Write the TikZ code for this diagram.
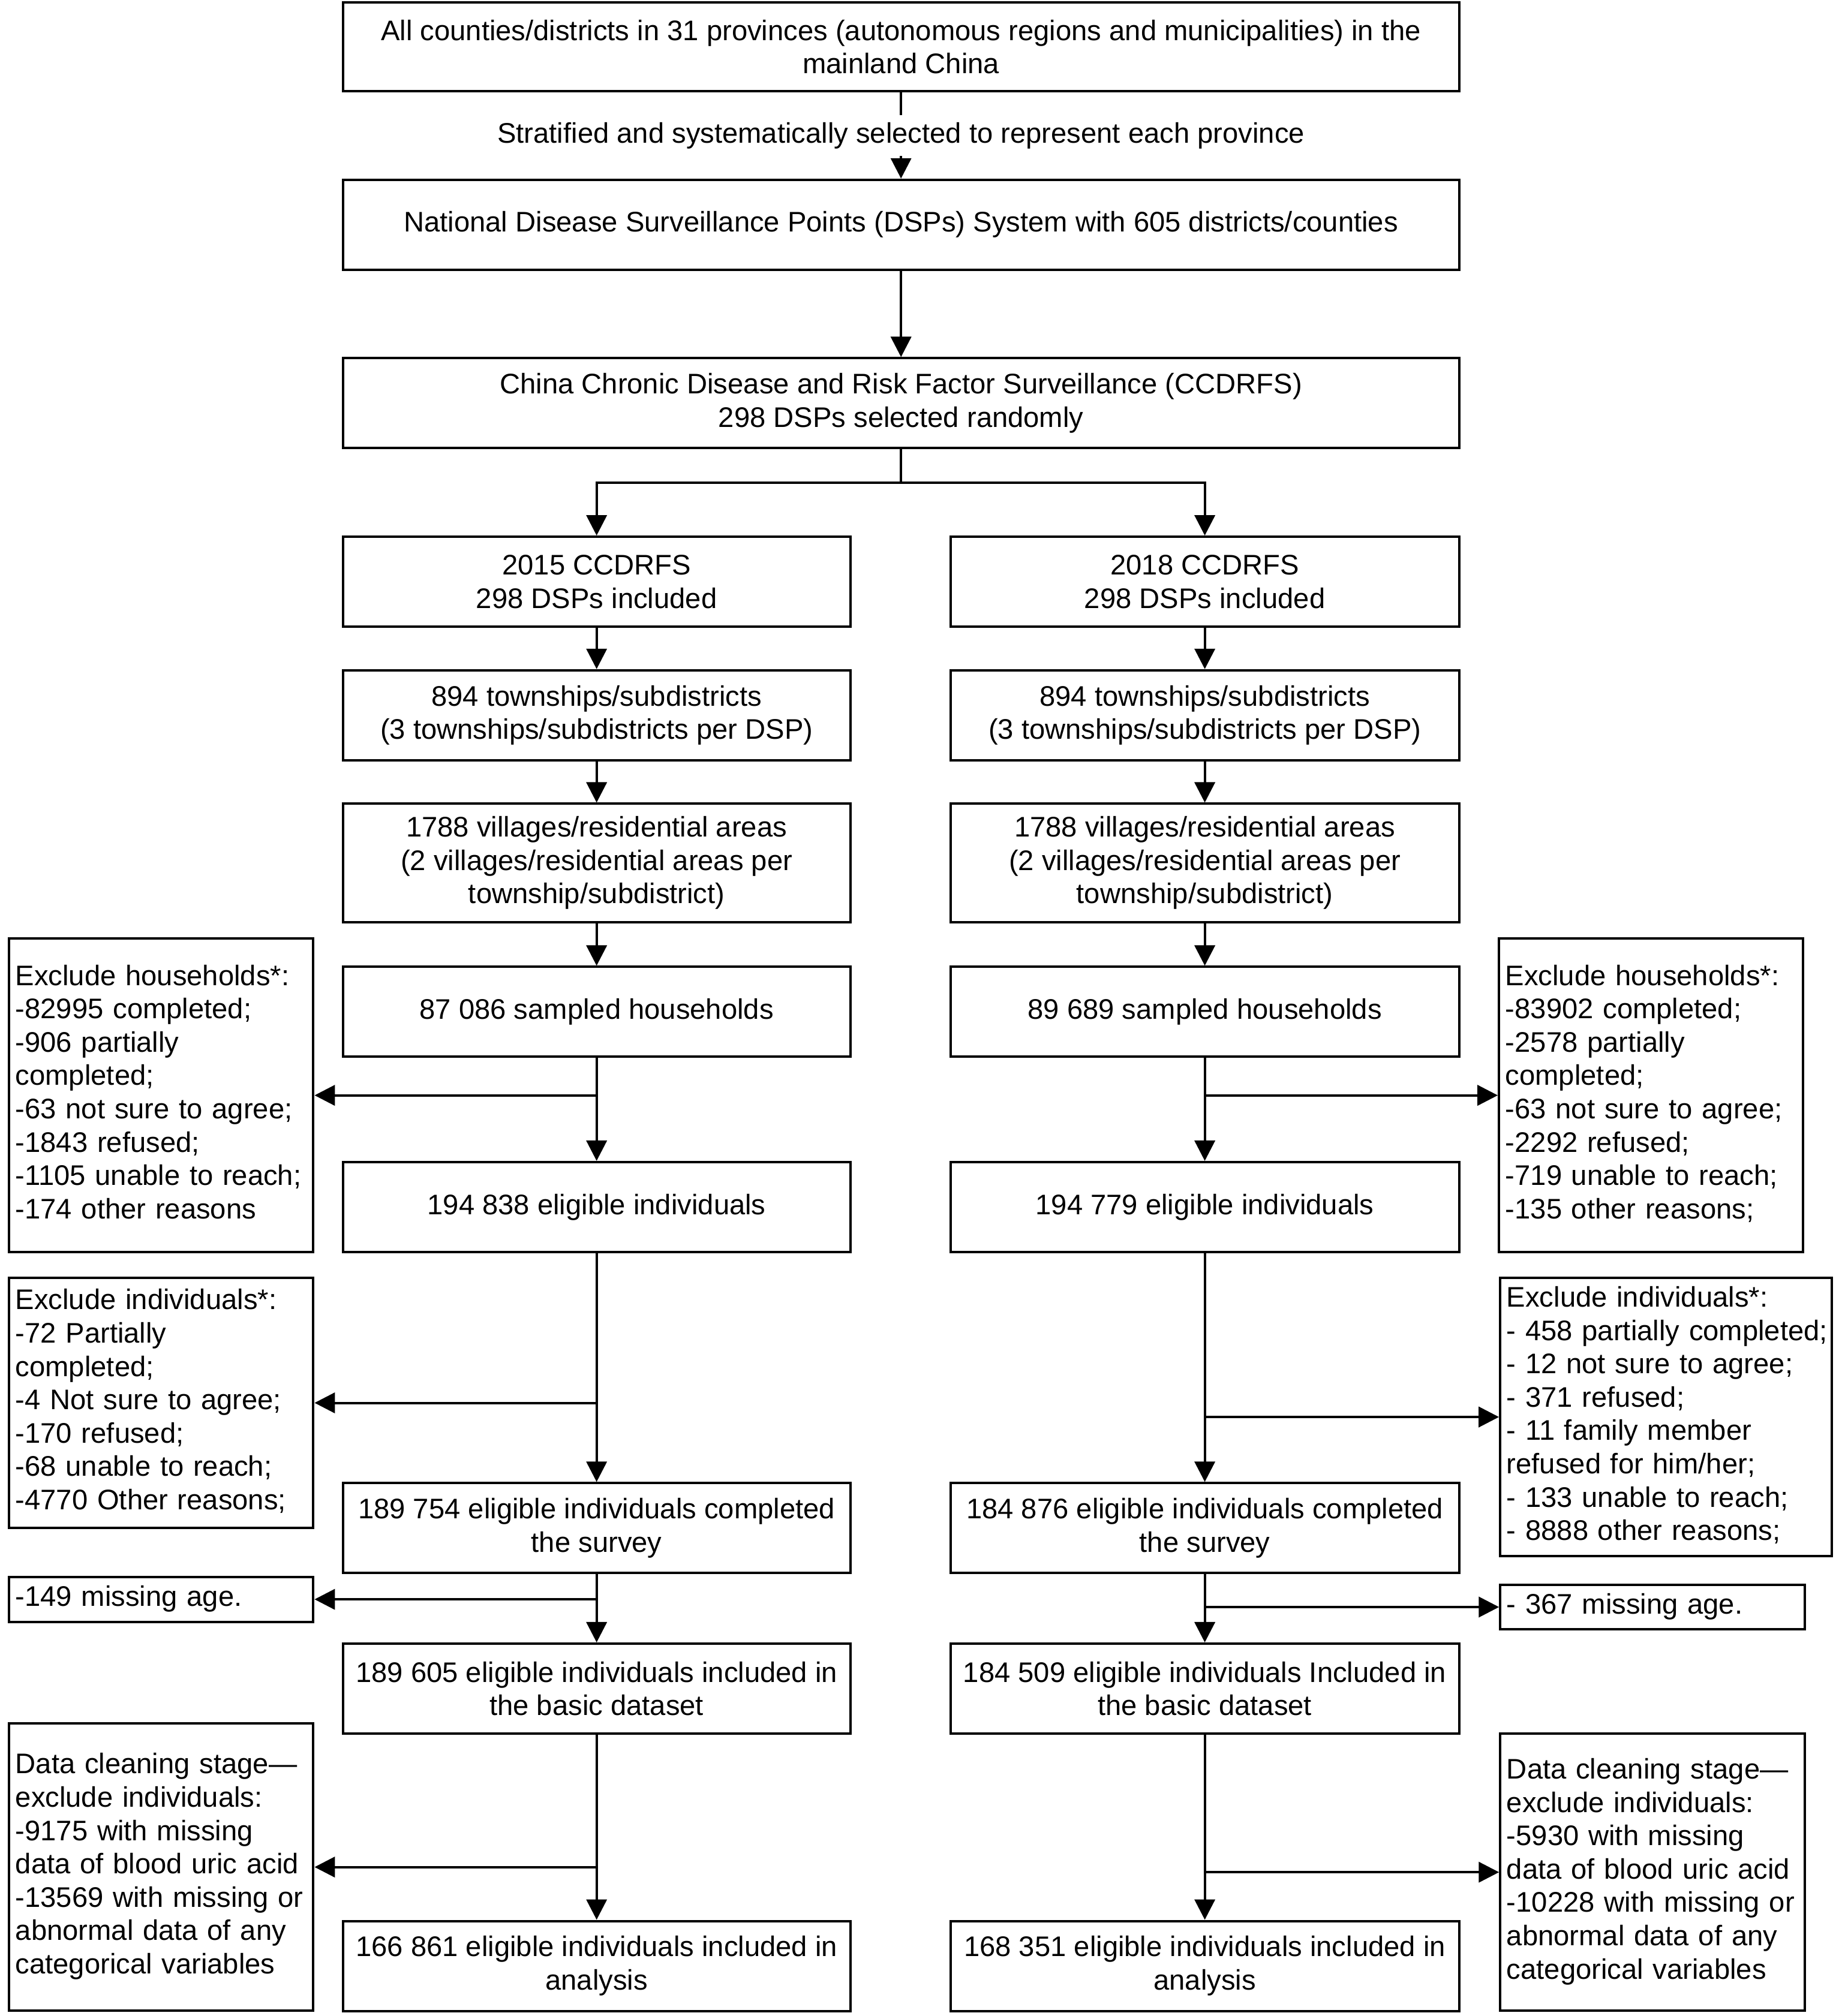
\documentclass[tikz,border=0pt]{standalone}
\usepackage{fontspec}
\setmainfont{Liberation Sans}
\usetikzlibrary{arrows.meta}
\begin{document}
\begin{tikzpicture}[x=0.5354pt,y=-0.5354pt,
  every node/.style={font=\fontsize{11.8}{13.9}\selectfont, inner sep=0pt},
  mainbox/.style 2 args={draw, line width=1pt, align=center, minimum width=#1, minimum height=#2},
  exbox/.style 2 args={draw, line width=1pt, align=left, inner xsep=2.677pt, text width=#1, minimum height=#2},
  conn/.style={line width=1pt},
  arr/.style={line width=1pt, -{Triangle[length=8.5pt,width=8.5pt]}}
]
\useasboundingbox (0,0) rectangle (1434,1570);

% top column
\node[mainbox={465.3pt}{36.9pt}] (top) at (701.5,36.5) {All counties/districts in 31 provinces (autonomous regions and municipalities) in the\\mainland China};
\node[mainbox={465.3pt}{37.5pt}] (dsp) at (701.5,175) {National Disease Surveillance Points (DSPs) System with 605 districts/counties};
\node[mainbox={465.3pt}{37.5pt}] (ccd) at (701.5,314) {China Chronic Disease and Risk Factor Surveillance (CCDRFS)\\298 DSPs selected randomly};

% left column
\node[mainbox={211.5pt}{37.5pt}] (L1) at (464.5,453) {2015 CCDRFS\\298 DSPs included};
\node[mainbox={211.5pt}{37.5pt}] (L2) at (464.5,557) {894 townships/subdistricts\\(3 townships/subdistricts per DSP)};
\node[mainbox={211.5pt}{49.3pt}] (L3) at (464.5,672) {1788 villages/residential areas\\(2 villages/residential areas per\\township/subdistrict)};
\node[mainbox={211.5pt}{37.5pt}] (L4) at (464.5,788) {87 086 sampled households};
\node[mainbox={211.5pt}{37.5pt}] (L5) at (464.5,940) {194 838 eligible individuals};
\node[mainbox={211.5pt}{37.5pt}] (L6) at (464.5,1190) {189 754 eligible individuals completed\\the survey};
\node[mainbox={211.5pt}{37.5pt}] (L7) at (464.5,1315) {189 605 eligible individuals included in\\the basic dataset};
\node[mainbox={211.5pt}{37.5pt}] (L8) at (464.5,1531) {166 861 eligible individuals included in\\analysis};

% right column
\node[mainbox={212pt}{37.5pt}] (R1) at (938,453) {2018 CCDRFS\\298 DSPs included};
\node[mainbox={212pt}{37.5pt}] (R2) at (938,557) {894 townships/subdistricts\\(3 townships/subdistricts per DSP)};
\node[mainbox={212pt}{49.3pt}] (R3) at (938,672) {1788 villages/residential areas\\(2 villages/residential areas per\\township/subdistrict)};
\node[mainbox={212pt}{37.5pt}] (R4) at (938,788) {89 689 sampled households};
\node[mainbox={212pt}{37.5pt}] (R5) at (938,940) {194 779 eligible individuals};
\node[mainbox={212pt}{37.5pt}] (R6) at (938,1190) {184 876 eligible individuals completed\\the survey};
\node[mainbox={212pt}{37.5pt}] (R7) at (938,1315) {184 509 eligible individuals Included in\\the basic dataset};
\node[mainbox={212pt}{37.5pt}] (R8) at (938,1531) {168 351 eligible individuals included in\\analysis};

% left exclusion boxes
\node[exbox={121.5pt}{130.6pt}] (LE1) at (125.5,853) {\begin{tabular}{@{}l@{}}Exclude households*:\\-82995 completed;\\-906 partially\\completed;\\-63 not sure to agree;\\-1843 refused;\\-1105 unable to reach;\\-174 other reasons\end{tabular}};
\node[exbox={121.5pt}{104.4pt}] (LE2) at (125.5,1092.5) {\begin{tabular}{@{}l@{}}Exclude individuals*:\\-72 Partially\\completed;\\-4 Not sure to agree;\\-170 refused;\\-68 unable to reach;\\-4770 Other reasons;\end{tabular}};
\node[exbox={121.5pt}{18.7pt}] (LE3) at (125.5,1245.5) {\begin{tabular}{@{}l@{}}-149 missing age.\end{tabular}};
\node[exbox={121.5pt}{119.9pt}] (LE4) at (125.5,1454) {\begin{tabular}{@{}l@{}}Data cleaning stage—\\exclude individuals:\\-9175 with missing\\data of blood uric acid\\-13569 with missing or\\abnormal data of any\\categorical variables\end{tabular}};

% right exclusion boxes
\node[exbox={121.5pt}{130.6pt}] (RE1) at (1285.5,853) {\begin{tabular}{@{}l@{}}Exclude households*:\\-83902 completed;\\-2578 partially\\completed;\\-63 not sure to agree;\\-2292 refused;\\-719 unable to reach;\\-135 other reasons;\end{tabular}};
\node[exbox={132.8pt}{116.2pt}] (RE2) at (1297,1103.5) {\begin{tabular}{@{}l@{}}Exclude individuals*:\\- 458 partially completed;\\- 12 not sure to agree;\\- 371 refused;\\- 11 family member\\refused for him/her;\\- 133 unable to reach;\\- 8888 other reasons;\end{tabular}};
\node[exbox={121.5pt}{18.7pt}] (RE3) at (1286.5,1251.5) {\begin{tabular}{@{}l@{}}- 367 missing age.\end{tabular}};
\node[exbox={121.5pt}{115.6pt}] (RE4) at (1286.5,1458) {\begin{tabular}{@{}l@{}}Data cleaning stage—\\exclude individuals:\\-5930 with missing\\data of blood uric acid\\-10228 with missing or\\abnormal data of any\\categorical variables\end{tabular}};

% connectors top
\draw[arr] (top.south) -- (dsp.north) node[midway, fill=white, inner xsep=1pt, inner ysep=3pt] {Stratified and systematically selected to represent each province};
\draw[arr] (dsp.south) -- (ccd.north);
\coordinate (split) at (701.5,376);
\draw[conn] (ccd.south) -- (split);
\draw[arr] (split) -| (L1.north);
\draw[arr] (split) -| (R1.north);

% left chain
\draw[arr] (L1.south) -- (L2.north);
\draw[arr] (L2.south) -- (L3.north);
\draw[arr] (L3.south) -- (L4.north);
\draw[arr] (L4.south) -- (L5.north);
\draw[arr] (L5.south) -- (L6.north);
\draw[arr] (L6.south) -- (L7.north);
\draw[arr] (L7.south) -- (L8.north);
\draw[arr] (L4.south |- LE1.east) -- (LE1.east);
\draw[arr] (L5.south |- LE2.east) -- (LE2.east);
\draw[arr] (L6.south |- LE3.east) -- (LE3.east);
\draw[arr] (L7.south |- LE4.east) -- (LE4.east);

% right chain
\draw[arr] (R1.south) -- (R2.north);
\draw[arr] (R2.south) -- (R3.north);
\draw[arr] (R3.south) -- (R4.north);
\draw[arr] (R4.south) -- (R5.north);
\draw[arr] (R5.south) -- (R6.north);
\draw[arr] (R6.south) -- (R7.north);
\draw[arr] (R7.south) -- (R8.north);
\draw[arr] (R4.south |- RE1.west) -- (RE1.west);
\draw[arr] (R5.south |- RE2.west) -- (RE2.west);
\draw[arr] (R6.south |- RE3.west) -- (RE3.west);
\draw[arr] (R7.south |- RE4.west) -- (RE4.west);
\end{tikzpicture}
\end{document}
